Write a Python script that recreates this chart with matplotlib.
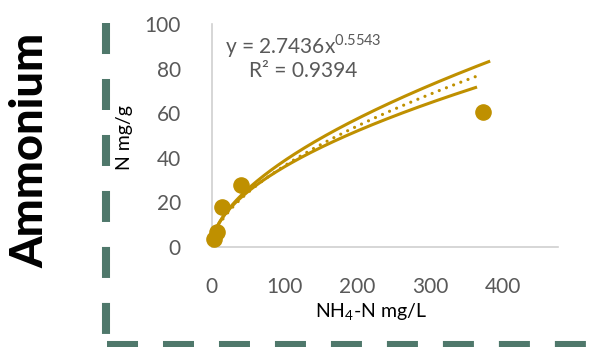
import numpy as np
import matplotlib.pyplot as plt
from matplotlib.lines import Line2D

plt.rcParams['font.family'] = ['Lato', 'DejaVu Sans']

# measured points (NH4-N mg/L vs N mg/g)
conc = [3, 8, 15, 41, 372]
sorbed = [3.5, 6.3, 17.6, 27.5, 60.3]

# power curves y = a * x^b : (a, b, x_end)
trend_fit = (2.52, 0.579, 364)      # dotted trend line
upper_band = (2.73, 0.575, 382)
lower_band = (3.02, 0.537, 364)

eq_text = r'y = 2.7436x$^{\mathregular{0.5543}}$'
r2_text = 'R² = 0.9394'
xticks = [0, 100, 200, 300, 400]
yticks = [0, 20, 40, 60, 80, 100]

gold = '#BF9000'
grey = '#595959'
teal = '#4F786B'

fig = plt.figure(figsize=(6, 3.47), dpi=100)
ax = fig.add_axes([0.3525, 0.2896, 0.5775, 0.6412])


def curve(p):
    a, b, xe = p
    xs = np.linspace(1.5, xe, 200)
    return xs, a * xs ** b


xs, ys = curve(upper_band)
ax.plot(xs, ys, color=gold, lw=2.2, solid_capstyle='butt')
xs, ys = curve(lower_band)
ax.plot(xs, ys, color=gold, lw=2.2, solid_capstyle='butt')
xs, ys = curve(trend_fit)
ax.plot(xs, ys, color=gold, lw=2.3, linestyle=(0, (0.01, 2.4)), dash_capstyle='round')
ax.scatter(conc, sorbed, s=120, color=gold, zorder=3, clip_on=False)

ax.set_xlim(0, 475)
ax.set_ylim(0, 100)
ax.set_xticks(xticks)
ax.set_yticks(yticks)
ax.tick_params(length=0, labelsize=15, labelcolor=grey)
ax.tick_params(axis='y', pad=22)
ax.tick_params(axis='x', pad=22)
for s in ['top', 'right']:
    ax.spines[s].set_visible(False)
for s in ['left', 'bottom']:
    ax.spines[s].set_color('#D0D0D0')
    ax.spines[s].set_linewidth(1.2)

ax.set_ylabel('N mg/g', fontsize=14, color='black')
ax.yaxis.set_label_coords(-0.2265, 0.488)
ax.set_xlabel(r'NH$_\mathregular{4}$-N mg/L', fontsize=14, color='black')
ax.xaxis.set_label_coords(0.462, -0.25)

ax.text(0.265, 0.90, eq_text, transform=ax.transAxes, ha='center', va='center',
        fontsize=15, color=grey)
ax.text(0.265, 0.79, r2_text, transform=ax.transAxes, ha='center', va='center',
        fontsize=15, color=grey)

fig.text(0.05, 0.567, 'Ammonium', rotation=90, ha='center', va='center',
         fontsize=32.5, fontweight='black', color='black')

# dashed frame
W, H = 600, 347
fig.add_artist(Line2D([106 / W, 106 / W], [1 - 23 / H, 1 - 340 / H], color=teal, lw=5.8,
                      linestyle=(0, (3.85, 3.1)), dash_capstyle='butt'))
fig.add_artist(Line2D([107 / W, 1.0], [1 - 345 / H, 1 - 345 / H], color=teal, lw=5.8,
                      linestyle=(0, (3.85, 3.1)), dash_capstyle='butt'))

fig.savefig('out.png', dpi=100)
